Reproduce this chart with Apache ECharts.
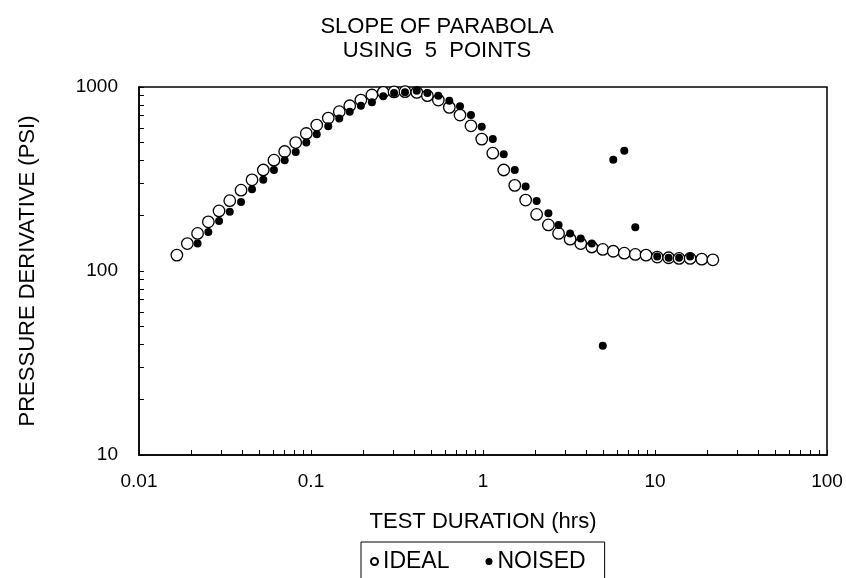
<!DOCTYPE html>
<html>
<head>
<meta charset="utf-8">
<title>Slope of parabola</title>
<script src="https://cdn.jsdelivr.net/npm/echarts@6/dist/echarts.min.js"></script>
<style>
  html, body { margin: 0; padding: 0; background: #fff; }
  #chart { width: 846px; height: 578px; }
</style>
</head>
<body>
<div id="chart"></div>
<script>
// ideal derivative (open circles)
var idealX = [0.0166, 0.0191, 0.0219, 0.0253, 0.0292, 0.0337, 0.0392, 0.0454, 0.0528, 0.0609,
  0.0703, 0.0815, 0.0939, 0.108, 0.126, 0.146, 0.168, 0.195, 0.226, 0.263,
  0.304, 0.352, 0.412, 0.475, 0.550, 0.637, 0.735, 0.851, 0.983, 1.14,
  1.32, 1.53, 1.77, 2.05, 2.40, 2.75, 3.21, 3.70, 4.29, 4.97,
  5.72, 6.63, 7.68, 8.87, 10.3, 12.0, 13.8, 16.0, 18.7, 21.7];
var idealY = [122, 141, 160, 185, 212, 241, 275, 313, 354, 400,
  446, 499, 559, 621, 678, 734, 791, 849, 905, 936,
  940, 943, 935, 897, 849, 775, 704, 615, 521, 437,
  354, 292, 243, 203, 178, 160, 149, 141, 135, 131,
  128, 125, 123, 122, 119, 118, 117, 117, 116, 115];

// noised derivative (filled dots)
var noisedX = [0.0219, 0.0253, 0.0292, 0.0337, 0.0392, 0.0454, 0.0528, 0.0609, 0.0703, 0.0815,
  0.0939, 0.108, 0.126, 0.146, 0.168, 0.195, 0.226, 0.263, 0.304, 0.352,
  0.412, 0.475, 0.550, 0.637, 0.735, 0.851, 0.983, 1.14, 1.32, 1.53,
  1.77, 2.05, 2.40, 2.75, 3.21, 3.70, 4.29, 4.97, 5.72, 6.63,
  7.68, 10.3, 12.0, 13.8, 16.0];
var noisedY = [141, 163, 187, 210, 237, 278, 313, 354, 400, 444,
  499, 554, 611, 675, 734, 791, 825, 890, 928, 936,
  955, 928, 897, 842, 785, 704, 608, 521, 431, 354,
  288, 240, 206, 178, 160, 150, 141, 39.3, 402, 450,
  173, 120, 118, 118, 120];

// tick marks (log decades with 2..9 minors)
var xTicks = [0.01, 0.02, 0.03, 0.04, 0.05, 0.06, 0.07, 0.08, 0.09,
  0.1, 0.2, 0.3, 0.4, 0.5, 0.6, 0.7, 0.8, 0.9,
  1, 2, 3, 4, 5, 6, 7, 8, 9,
  10, 20, 30, 40, 50, 60, 70, 80, 90, 100];
var yTicks = [10, 20, 30, 40, 50, 60, 70, 80, 90,
  100, 200, 300, 400, 500, 600, 700, 800, 900, 1000];
var xLabels = [0.01, 0.1, 1, 10, 100];
var yLabels = [10, 100, 1000];

var font = "'Liberation Sans', Arial, sans-serif";

function pairs(xs, ys) {
  return xs.map(function (x, i) {
    return [x, ys[i]];
  });
}

var chart = echarts.init(document.getElementById("chart"));

var option = {
  backgroundColor: "#fff",
  animation: false,
  title: {
    text: "SLOPE OF PARABOLA\nUSING  5  POINTS",
    left: 432,
    top: 10,
    textAlign: "center",
    textStyle: {
      fontFamily: font,
      fontSize: 22,
      fontWeight: "normal",
      color: "#000",
      lineHeight: 24
    }
  },
  grid: {
    left: 139,
    right: 19,
    top: 87,
    bottom: 123,
    show: true,
    borderColor: "#000",
    borderWidth: 1.5,
    backgroundColor: "transparent"
  },
  legend: {
    data: ["IDEAL", "NOISED"],
    left: 361,
    top: 542,
    orient: "horizontal",
    padding: [8, 19, 20, 9],
    itemGap: 36,
    itemWidth: 7,
    itemHeight: 7,
    borderColor: "#000",
    borderWidth: 1,
    textStyle: {
      fontFamily: font,
      fontSize: 23,
      color: "#000"
    }
  },
  xAxis: {
    type: "log",
    logBase: 10,
    min: 0.01,
    max: 100,
    name: "TEST DURATION (hrs)",
    nameLocation: "middle",
    nameGap: 56,
    nameTextStyle: { fontFamily: font, fontSize: 22, color: "#000" },
    axisLine: { lineStyle: { color: "#000", width: 1.5 } },
    axisTick: {
      inside: true,
      length: 5,
      customValues: xTicks,
      lineStyle: { color: "#000", width: 1 }
    },
    axisLabel: {
      customValues: xLabels,
      margin: 17,
      fontFamily: font,
      fontSize: 19,
      color: "#000",
      formatter: function (v) {
        return String(v);
      }
    },
    splitLine: { show: false }
  },
  yAxis: {
    type: "log",
    logBase: 10,
    min: 10,
    max: 1000,
    name: "PRESSURE DERIVATIVE (PSI)",
    nameLocation: "middle",
    nameGap: 100,
    nameRotate: 90,
    nameTextStyle: { fontFamily: font, fontSize: 22, color: "#000" },
    axisLine: { lineStyle: { color: "#000", width: 1.5 } },
    axisTick: {
      inside: true,
      length: 5,
      customValues: yTicks,
      lineStyle: { color: "#000", width: 1 }
    },
    axisLabel: {
      customValues: yLabels,
      margin: 21,
      fontFamily: font,
      fontSize: 19,
      color: "#000",
      formatter: function (v) {
        return String(v);
      }
    },
    splitLine: { show: false }
  },
  series: [
    {
      name: "IDEAL",
      type: "scatter",
      data: pairs(idealX, idealY),
      symbol: "circle",
      symbolSize: 11.5,
      itemStyle: {
        color: "#fff",
        borderColor: "#000",
        borderWidth: 1.3,
        opacity: 1
      },
      z: 2
    },
    {
      name: "NOISED",
      type: "scatter",
      data: pairs(noisedX, noisedY),
      symbol: "circle",
      symbolSize: 8,
      itemStyle: {
        color: "#000",
        opacity: 1
      },
      z: 3
    }
  ]
};

chart.setOption(option);
</script>
</body>
</html>
